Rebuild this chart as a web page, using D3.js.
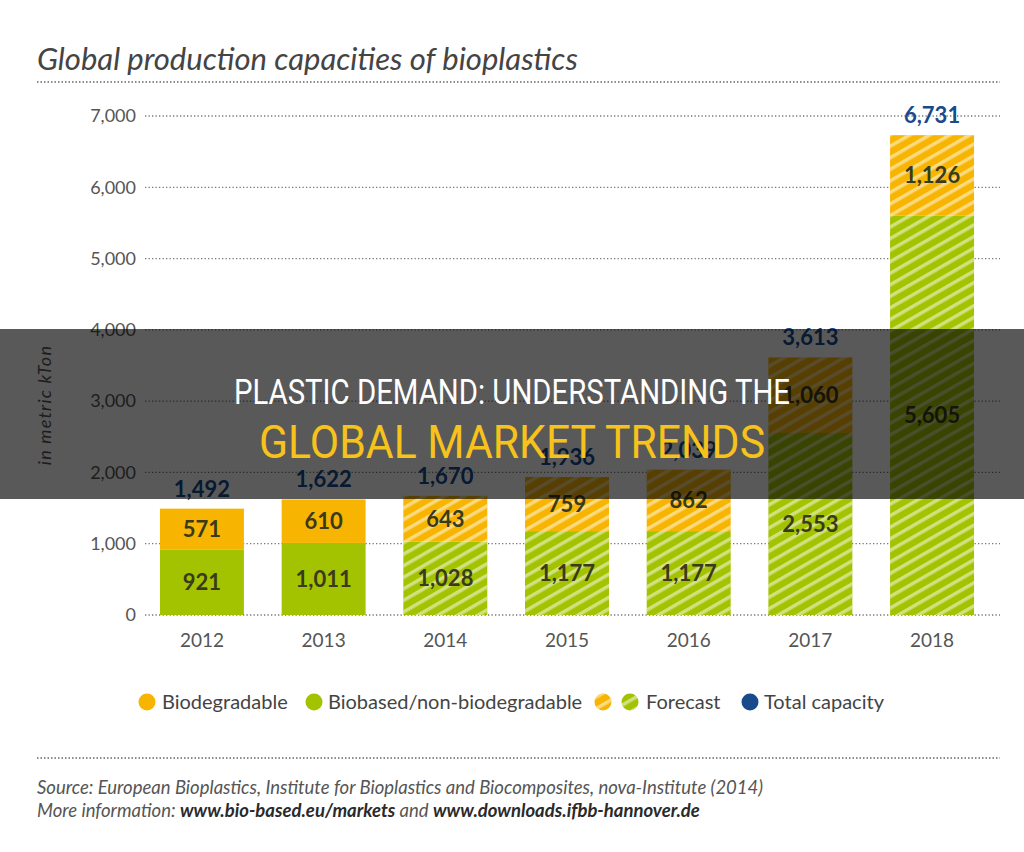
<!DOCTYPE html>
<html>
<head>
<meta charset="utf-8">
<script src="https://cdn.jsdelivr.net/npm/d3@7"></script>
<style>
  body { margin: 0; background: #fff; }
  text { font-family: Lato, "Open Sans", sans-serif; }
</style>
</head>
<body>
<div id="chart-div"></div>
<script>
const years = ["2012", "2013", "2014", "2015", "2016", "2017", "2018"];
const biobased = [921, 1011, 1028, 1177, 1177, 2553, 5605];
const biodegradable = [571, 610, 643, 759, 862, 1060, 1126];
const totals = [1492, 1622, 1670, 1936, 2039, 3613, 6731];
const forecastYears = ["2014", "2015", "2016", "2017", "2018"];
const yTicks = [0, 1000, 2000, 3000, 4000, 5000, 6000, 7000];

const orange = "#f7b400";
const green = "#a3c200";
const blue = "#184a8c";
const labelDark = "#3a3a1c";
const grey = "#555";

const width = 1024;
const height = 852;
const fmt = d3.format(",");

const svg = d3.select("#chart-div")
    .append("svg")
    .attr("width", width)
    .attr("height", height);

// hatch for forecast bars
const defs = svg.append("defs");
const hatch = defs.append("pattern")
    .attr("id", "hatch")
    .attr("patternUnits", "userSpaceOnUse")
    .attr("width", 10)
    .attr("height", 10)
    .attr("patternTransform", "rotate(-30)");
hatch.append("rect")
    .attr("x", 0)
    .attr("y", 0)
    .attr("width", 10)
    .attr("height", 3.5)
    .style("fill", "#fff")
    .style("fill-opacity", 0.5);

// title
svg.append("text")
    .text("Global production capacities of bioplastics")
    .attr("x", 37)
    .attr("y", 70)
    .style("font-style", "italic")
    .style("font-size", "31px")
    .style("fill", "#444");

function dottedLine(y) {
    svg.append("line")
        .attr("x1", 37).attr("x2", 1000)
        .attr("y1", y).attr("y2", y)
        .style("stroke", "#666")
        .style("stroke-width", 1.5)
        .style("stroke-dasharray", "1.5,2");
}
dottedLine(82);
dottedLine(758);

const xScale = d3.scaleBand()
    .domain(years)
    .range([141.1, 992.9])
    .paddingInner(0.31)
    .paddingOuter(0.155);

const yScale = d3.scaleLinear()
    .domain([0, 7000])
    .range([615, 116]);

// grid + tick labels
const yAxis = svg.append("g")
    .attr("transform", "translate(136,0)")
    .call(d3.axisLeft(yScale).tickValues(yTicks).tickFormat(fmt).tickSize(0).tickPadding(0));
yAxis.select(".domain").remove();
yAxis.selectAll("text")
    .style("font-family", "Lato, sans-serif")
    .style("font-size", "18px")
    .style("fill", grey);

svg.selectAll("line.grid").data(yTicks).enter().append("line")
    .classed("grid", true)
    .attr("x1", 145)
    .attr("x2", 1000)
    .attr("y1", d => yScale(d))
    .attr("y2", d => yScale(d))
    .style("stroke", "#777")
    .style("stroke-width", 1.3)
    .style("stroke-dasharray", "1.3,2.2");

// y label
svg.append("text")
    .text("in metric kTon")
    .attr("transform", "translate(51,405) rotate(-90)")
    .attr("text-anchor", "middle")
    .style("font-style", "italic")
    .style("font-size", "18px")
    .style("letter-spacing", "1.2px")
    .style("fill", grey);

// bars
const rows = years.map((y, i) => ({
    year: y,
    bio: biobased[i],
    deg: biodegradable[i],
    total: totals[i],
    forecast: forecastYears.includes(y)
}));

const bars = svg.selectAll("g.bar").data(rows).enter().append("g")
    .classed("bar", true);

bars.append("rect")
    .attr("x", d => xScale(d.year))
    .attr("width", xScale.bandwidth())
    .attr("y", d => yScale(d.bio))
    .attr("height", d => yScale(0) - yScale(d.bio))
    .style("fill", green);

bars.append("rect")
    .attr("x", d => xScale(d.year))
    .attr("width", xScale.bandwidth())
    .attr("y", d => yScale(d.bio + d.deg))
    .attr("height", d => yScale(d.bio) - yScale(d.bio + d.deg))
    .style("fill", orange);

bars.filter(d => d.forecast).append("rect")
    .attr("x", d => xScale(d.year))
    .attr("width", xScale.bandwidth())
    .attr("y", d => yScale(d.bio + d.deg))
    .attr("height", d => yScale(0) - yScale(d.bio + d.deg))
    .style("fill", "url(#hatch)");

const cx = d => xScale(d.year) + xScale.bandwidth() / 2;

bars.append("text")
    .text(d => fmt(d.bio))
    .attr("x", cx)
    .attr("y", d => (yScale(0) + yScale(d.bio)) / 2 + 8)
    .attr("text-anchor", "middle")
    .style("font-weight", "bold")
    .style("font-size", "22px")
    .style("fill", labelDark);

bars.append("text")
    .text(d => fmt(d.deg))
    .attr("x", cx)
    .attr("y", d => (yScale(d.bio) + yScale(d.bio + d.deg)) / 2 + 8)
    .attr("text-anchor", "middle")
    .style("font-weight", "bold")
    .style("font-size", "22px")
    .style("fill", labelDark);

bars.append("text")
    .text(d => fmt(d.total))
    .attr("x", cx)
    .attr("y", d => yScale(d.total) - 12)
    .attr("text-anchor", "middle")
    .style("font-weight", "bold")
    .style("font-size", "22px")
    .style("fill", blue);

// x labels
svg.selectAll("text.year").data(years).enter().append("text")
    .classed("year", true)
    .text(d => d)
    .attr("x", d => xScale(d) + xScale.bandwidth() / 2)
    .attr("y", 647)
    .attr("text-anchor", "middle")
    .style("font-size", "19px")
    .style("fill", grey);

// legend
const legendY = 702;
function dot(x, fill, hatched) {
    svg.append("circle").attr("cx", x).attr("cy", legendY).attr("r", 8.5).style("fill", fill);
    if (hatched) {
        svg.append("circle").attr("cx", x).attr("cy", legendY).attr("r", 8.5).style("fill", "url(#hatch)");
    }
}
function legendText(x, t) {
    svg.append("text").text(t)
        .attr("x", x).attr("y", legendY + 7)
        .style("font-size", "20px")
        .style("fill", "#444");
}
dot(147, orange);
legendText(162, "Biodegradable");
dot(314, green);
legendText(328, "Biobased/non-biodegradable");
dot(603, orange, true);
dot(630, green, true);
legendText(646, "Forecast");
dot(750, blue);
legendText(764, "Total capacity");

// footer
svg.append("text")
    .text("Source: European Bioplastics, Institute for Bioplastics and Biocomposites, nova-Institute (2014)")
    .attr("x", 37)
    .attr("y", 794)
    .style("font-style", "italic")
    .style("font-size", "18.5px")
    .style("fill", "#555");

const more = svg.append("text")
    .attr("x", 37)
    .attr("y", 817)
    .style("font-style", "italic")
    .style("font-size", "18.5px")
    .style("fill", "#555");
more.append("tspan").text("More information: ");
more.append("tspan").text("www.bio-based.eu/markets").style("font-weight", "bold").style("fill", "#2a2a2a");
more.append("tspan").text(" and ");
more.append("tspan").text("www.downloads.ifbb-hannover.de").style("font-weight", "bold").style("fill", "#2a2a2a");

// dark overlay banner
svg.append("rect")
    .attr("x", 0)
    .attr("y", 329)
    .attr("width", width)
    .attr("height", 170)
    .style("fill", "#000")
    .style("fill-opacity", 0.65);

svg.append("text")
    .text("PLASTIC DEMAND: UNDERSTANDING THE")
    .attr("x", 512)
    .attr("y", 404)
    .attr("text-anchor", "middle")
    .attr("textLength", 556)
    .attr("lengthAdjust", "spacingAndGlyphs")
    .style("font-family", "Roboto, sans-serif")
    .style("font-size", "35px")
    .style("fill", "#fff");

svg.append("text")
    .text("GLOBAL MARKET TRENDS")
    .attr("x", 512)
    .attr("y", 458)
    .attr("text-anchor", "middle")
    .attr("textLength", 506)
    .attr("lengthAdjust", "spacingAndGlyphs")
    .style("font-family", "Roboto, sans-serif")
    .style("font-size", "46px")
    .style("fill", "#f6c21b");
</script>
</body>
</html>
